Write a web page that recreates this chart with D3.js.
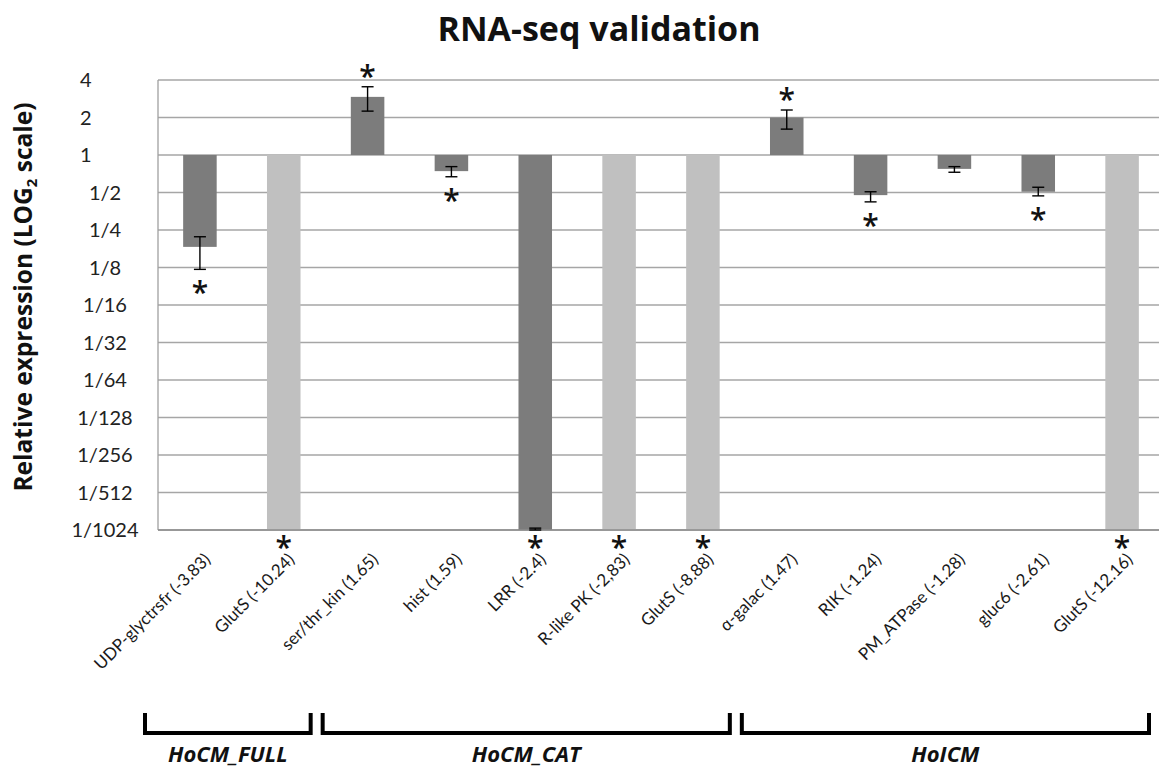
<!DOCTYPE html>
<html>
<head>
<meta charset="utf-8">
<script src="https://cdn.jsdelivr.net/npm/d3@7"></script>
<style>
  html, body { margin: 0; padding: 0; background: #fff; }
  svg { display: block; font-family: "Open Sans", "Noto Sans", sans-serif; }
</style>
</head>
<body>
<svg id="chart" width="1159" height="771"></svg>
<script>
// ---- data (log2 relative expression) ----
const categories = ["UDP-glyctrsfr (-3.83)", "GlutS (-10.24)", "ser/thr_kin (1.65)", "hist (1.59)", "LRR (-2.4)", "R-like PK (-2,83)", "GlutS (-8.88)", "α-galac (1.47)", "RIK (-1.24)", "PM_ATPase (-1.28)", "gluc6 (-2.61)", "GlutS (-12.16)"];
const log2Values = [-2.45, -10, 1.55, -0.43, -10, -10, -10, 1.0, -1.07, -0.37, -0.98, -10];
const errHigh = [-2.18, null, 1.82, -0.31, -9.95, null, null, 1.2, -0.98, -0.31, -0.86, null];
const errLow  = [-3.05, null, 1.17, -0.58, -10, null, null, 0.69, -1.25, -0.46, -1.09, null];
const shade = ["dark", "light", "dark", "dark", "dark", "light", "light", "dark", "dark", "dark", "dark", "light"];
const significance = ["below", "label", "above", "below", "label", "label", "label", "above", "below", null, "below", "label"];
const yTickValues = [2, 1, 0, -1, -2, -3, -4, -5, -6, -7, -8, -9, -10];
const yTickLabels = ["4", "2", "1", "1/2", "1/4", "1/8", "1/16", "1/32", "1/64", "1/128", "1/256", "1/512", "1/1024"];
const groupNames = ["HoCM_FULL", "HoCM_CAT", "HoICM"];
const groupFirst = [0, 2, 7];
const groupLast = [1, 6, 11];

// ---- layout ----
const W = 1159, H = 771;
const svg = d3.select("#chart");
svg.append("rect").attr("width", W).attr("height", H).attr("fill", "#fff");

const x = d3.scaleBand().domain(d3.range(categories.length)).range([158, 1164]).paddingInner(0.6).paddingOuter(0.3);
const y = d3.scaleLinear().domain([-10, 2]).range([530, 80]);
const colors = { dark: "#7c7c7c", light: "#c0c0c0" };
const lato = "Lato, 'Open Sans', sans-serif";

// gridlines
svg.append("g").selectAll("line").data(yTickValues).join("line")
  .attr("x1", 158).attr("x2", W)
  .attr("y1", d => y(d)).attr("y2", d => y(d))
  .attr("stroke", "#a6a6a6").attr("stroke-width", 1.3);

// y axis line
svg.append("line").attr("x1", 158).attr("x2", 158).attr("y1", y(2)).attr("y2", y(-10))
  .attr("stroke", "#a0a0a0").attr("stroke-width", 1.3);

// y tick labels
svg.append("g").selectAll("text").data(yTickValues).join("text")
  .attr("x", (d, i) => yTickLabels[i].includes("/") ? 105 : 80)
  .attr("y", d => y(d))
  .attr("dy", "0.36em")
  .attr("text-anchor", (d, i) => yTickLabels[i].includes("/") ? "middle" : "start")
  .style("font-family", lato)
  .attr("font-size", 20)
  .attr("fill", "#222")
  .text((d, i) => yTickLabels[i]);

// bars
const idx = d3.range(categories.length);
svg.append("g").selectAll("rect").data(idx).join("rect")
  .attr("x", i => x(i))
  .attr("width", x.bandwidth())
  .attr("y", i => Math.min(y(0), y(log2Values[i])))
  .attr("height", i => Math.abs(y(log2Values[i]) - y(0)))
  .attr("fill", i => colors[shade[i]]);

// x axis line
svg.append("line").attr("x1", 158).attr("x2", W).attr("y1", y(-10)).attr("y2", y(-10))
  .attr("stroke", "#8c8c8c").attr("stroke-width", 1.5);

// error bars
const eb = svg.append("g").attr("stroke", "#000").attr("stroke-width", 1.4);
idx.filter(i => errHigh[i] !== null).forEach(i => {
  const cx = x(i) + x.bandwidth() / 2;
  eb.append("line").attr("x1", cx).attr("x2", cx).attr("y1", y(errHigh[i])).attr("y2", y(errLow[i]));
  eb.append("line").attr("x1", cx - 6).attr("x2", cx + 6).attr("y1", y(errHigh[i])).attr("y2", y(errHigh[i]));
  eb.append("line").attr("x1", cx - 6).attr("x2", cx + 6).attr("y1", y(errLow[i])).attr("y2", y(errLow[i]));
});

// asterisks
svg.append("g").selectAll("text").data(idx.filter(i => significance[i])).join("text")
  .attr("x", i => x(i) + x.bandwidth() / 2)
  .attr("y", i => {
    if (significance[i] === "above") return y(errHigh[i]) - 17;
    if (significance[i] === "below") return y(errLow[i]) + 17;
    return 541;
  })
  .attr("dy", "0.56em")
  .attr("text-anchor", "middle")
  .attr("font-size", 30)
  .attr("font-weight", 600)
  .attr("fill", "#111")
  .text("*");

// x labels
svg.append("g").selectAll("text").data(idx).join("text")
  .attr("transform", i => `translate(${x(i) + x.bandwidth() / 2 + 8},${557}) rotate(-45)`)
  .attr("text-anchor", "end")
  .attr("dy", "0.3em")
  .style("font-family", lato)
  .attr("font-size", 17)
  .attr("fill", "#1a1a1a")
  .text(i => categories[i]);

// group brackets
groupNames.forEach((g, k) => {
  const gap = (x.step() - x.bandwidth()) / 2;
  const bandStart = x(groupFirst[k]) - gap;
  const bandEnd = x(groupLast[k]) + x.bandwidth() + gap;
  const left = bandStart - (k === 0 ? 13 : 3);
  const right = bandEnd - 15;
  svg.append("path")
    .attr("d", `M${left},713V733H${right}V713`)
    .attr("fill", "none").attr("stroke", "#000").attr("stroke-width", 4);
  svg.append("text")
    .attr("x", (left + right) / 2).attr("y", 762)
    .attr("text-anchor", "middle")
    .attr("font-size", 22).attr("font-weight", "bold").attr("font-style", "italic")
    .attr("fill", "#111")
    .text(g);
});

// title
svg.append("text").attr("x", 599).attr("y", 41).attr("text-anchor", "middle")
  .attr("font-size", 34).attr("font-weight", "bold").attr("fill", "#111")
  .text("RNA-seq validation");

// y axis title
const yt = svg.append("text")
  .attr("transform", "translate(32,297) rotate(-90)")
  .attr("text-anchor", "middle")
  .attr("font-size", 24.5).attr("font-weight", "bold").attr("fill", "#111");
yt.append("tspan").text("Relative expression (LOG");
yt.append("tspan").attr("font-size", 15).attr("dy", 5).text("2");
yt.append("tspan").attr("dy", -5).text(" scale)");
</script>
</body>
</html>
